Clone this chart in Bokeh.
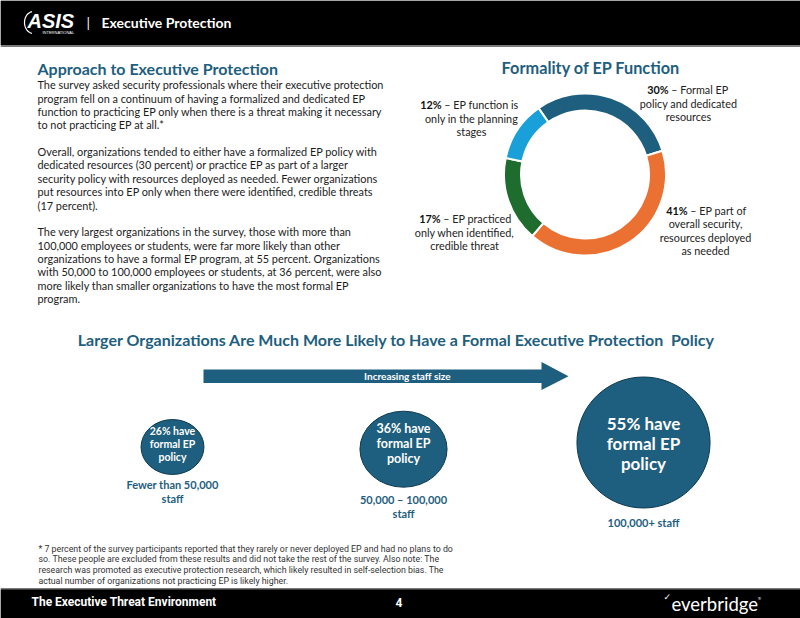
from bokeh.plotting import figure
from bokeh.models import Range1d, ColumnDataSource
from bokeh.core.properties import value
from bokeh.embed import file_html
from bokeh.resources import INLINE
import numpy as np

W, H = 800, 618

# ---------------- data ----------------
donut_pct = [30, 41, 17, 12]
donut_colors = ["#1E5E7E", "#EB7132", "#1F6D2E", "#1AA0D8"]
donut_bold = ["30%", "41%", "17%", "12%"]
donut_first = ["\u00a0\u2013 Formal EP", "\u00a0\u2013 EP part of", "\u00a0\u2013 EP practiced", "\u00a0\u2013 EP function is"]
donut_rest = [["policy and dedicated", "resources"],
              ["overall security,", "resources deployed", "as needed"],
              ["only when identified,", "credible threat"],
              ["only in the planning", "stages"]]

formal_pct = [26, 36, 55]
group_labels = [["Fewer than 50,000", "staff"], ["50,000 \u2013 100,000", "staff"], ["100,000+ staff"]]

body_lines = [
    "The survey asked security professionals where their executive protection",
    "program fell on a continuum of having a formalized and dedicated EP",
    "function to practicing EP only when there is a threat making it necessary",
    "to not practicing EP at all.*",
    "",
    "Overall, organizations tended to either have a formalized EP policy with",
    "dedicated resources (30 percent) or practice EP as part of a larger",
    "security policy with resources deployed as needed. Fewer organizations",
    "put resources into EP only when there were identified, credible threats",
    "(17 percent).",
    "",
    "The very largest organizations in the survey, those with more than",
    "100,000 employees or students, were far more likely than other",
    "organizations to have a formal EP program, at 55 percent. Organizations",
    "with 50,000 to 100,000 employees or students, at 36 percent, were also",
    "more likely than smaller organizations to have the most formal EP",
    "program.",
]
foot_lines = [
    "* 7 percent of the survey participants reported that they rarely or never deployed EP and had no plans to do",
    "so. These people are excluded from these results and did not take the rest of the survey. Also note: The",
    "research was promoted as executive protection research, which likely resulted in self-selection bias. The",
    "actual number of organizations not practicing EP is likely higher.",
]

BLUE = "#1E5E7E"

def Y(py):
    return H - py

p = figure(width=W, height=H, x_range=Range1d(0, W), y_range=Range1d(0, H),
           output_backend="svg", toolbar_location=None,
           x_axis_location=None, y_axis_location=None, min_border=0)
p.grid.visible = False
p.outline_line_color = None
p.background_fill_color = "white"
p.border_fill_color = "white"

def txt(xs, ys, texts, size, color, font="Lato", style="normal", align="left"):
    src = ColumnDataSource(dict(x=list(xs), y=[Y(v) for v in ys], t=list(texts)))
    p.text(x="x", y="y", text="t", source=src, text_font=value(font),
           text_font_size=f"{size}px", text_font_style=style, text_color=color,
           text_align=align, text_baseline="middle")

# ---------------- header / footer bars ----------------
p.quad(left=[0], right=[W], top=[Y(0)], bottom=[Y(46.5)], fill_color="#7a7a7a", line_color=None)
p.quad(left=[0], right=[W], top=[Y(0)], bottom=[Y(44.5)], fill_color="black", line_color=None)
p.quad(left=[0], right=[W], top=[Y(587.5)], bottom=[Y(H)], fill_color="#7a7a7a", line_color=None)
p.quad(left=[0], right=[W], top=[Y(589)], bottom=[Y(H)], fill_color="black", line_color=None)

# ASIS logo
th = np.linspace(np.radians(100), np.radians(260), 30)
p.line(x=33 + 9 * np.cos(th), y=Y(22) + 11 * np.sin(th), line_color="white", line_width=1.2)
txt([27], [20.5], ["ASIS"], 20, "white", font="Liberation Sans", style="bold italic")
txt([42], [32], ["INTERNATIONAL"], 4, "white", font="Liberation Sans")
txt([86], [22], ["|"], 14, "white")
txt([101], [21.5], ["Executive Protection"], 14, "white", style="bold")

txt([31], [601.5], ["The Executive Threat Environment"], 12, "white", font="Roboto", style="bold")
txt([398.5], [601.5], ["4"], 12, "white", font="Roboto", style="bold", align="center")
txt([671], [603], ["everbridge"], 18.5, "white", font="Lato")
txt([663], [596], ["\u2713"], 9, "white", font="DejaVu Sans")
txt([757], [598], ["\u00ae"], 4, "white", font="DejaVu Sans")

# ---------------- left text ----------------
txt([37], [68], ["Approach to Executive Protection"], 16, BLUE, style="bold")
body_y = [84.3 + 13.36 * i for i in range(len(body_lines))]
txt([37] * len(body_lines), body_y, body_lines, 10.9, "#1c1c1c")

# ---------------- donut ----------------
cx, cy, r_in, r_out, start_deg = 584.5, 174, 64, 81, 125
pct = np.array(donut_pct, dtype=float)
cum = np.concatenate([[0], np.cumsum(pct)])
starts = np.radians(start_deg - 3.6 * cum[:-1])
ends = np.radians(start_deg - 3.6 * cum[1:])
p.annular_wedge(x=[cx] * 4, y=[Y(cy)] * 4, inner_radius=r_in, outer_radius=r_out,
                start_angle=list(starts), end_angle=list(ends), direction="clock",
                fill_color=donut_colors, line_color="white", line_width=2)
txt([590.5], [67], ["Formality of EP Function"], 16.3, BLUE, style="bold", align="center")

# label layout: (split x, center x, first line y, line spacing)
lab_layout = [(668, 688, 89.3, 13.3), (687, 705, 210, 13.3), (440, 464, 218.3, 13.3), (441, 471, 104.3, 13.3)]
for b, f, rest, (sx, ccx, y0, dy) in zip(donut_bold, donut_first, donut_rest, lab_layout):
    txt([sx], [y0], [b], 10.8, "#111111", style="bold", align="right")
    txt([sx], [y0], [f], 10.8, "#222222", align="left")
    txt([ccx] * len(rest), [y0 + dy * (i + 1) for i in range(len(rest))], rest, 10.8, "#222222", align="center")

# ---------------- bottom section ----------------
txt([396], [339], ["Larger Organizations Are Much More Likely to Have a Formal Executive Protection\u00a0 Policy"],
    16, BLUE, style="bold", align="center")

p.quad(left=[203], right=[542], top=[Y(369)], bottom=[Y(382.5)], fill_color=BLUE, line_color=None)
p.patch(x=[541, 568, 541], y=[Y(361.5), Y(375.7), Y(389.5)], fill_color=BLUE, line_color=None)
txt([407], [375.7], ["Increasing staff size"], 10, "white", style="bold", align="center")

circ_x = [172, 403, 643]
circ_y = [446.5, 448.7, 442]
w_scale = 2.42
circ_h = [55, 76, 131]
p.ellipse(x=circ_x, y=[Y(v) for v in circ_y], width=[v * w_scale for v in formal_pct], height=circ_h,
          fill_color=BLUE, line_color="#0E3A50", line_width=1)

in_size = [10.5, 12.5, 17]
in_step = [13.3, 15, 20]
in_center = [443.3, 443.3, 443.3]
for pc, x, sz, st, ycen in zip(formal_pct, circ_x, in_size, in_step, in_center):
    lines = [f"{pc}% have", "formal EP", "policy"]
    txt([x] * 3, [ycen - st, ycen, ycen + st], lines, sz, "white", style="bold", align="center")

lab_y0 = [484.3, 499.3, 521.7]
for labs, x, y0 in zip(group_labels, circ_x, lab_y0):
    txt([x] * len(labs), [y0 + 13.5 * i for i in range(len(labs))], labs, 11, BLUE, style="bold", align="center")

foot_y = [548 + 10.9 * i for i in range(len(foot_lines))]
txt([38] * len(foot_lines), foot_y, foot_lines, 8.8, "#333333", font="Roboto")

open("out.html", "w").write(file_html(p, INLINE))
